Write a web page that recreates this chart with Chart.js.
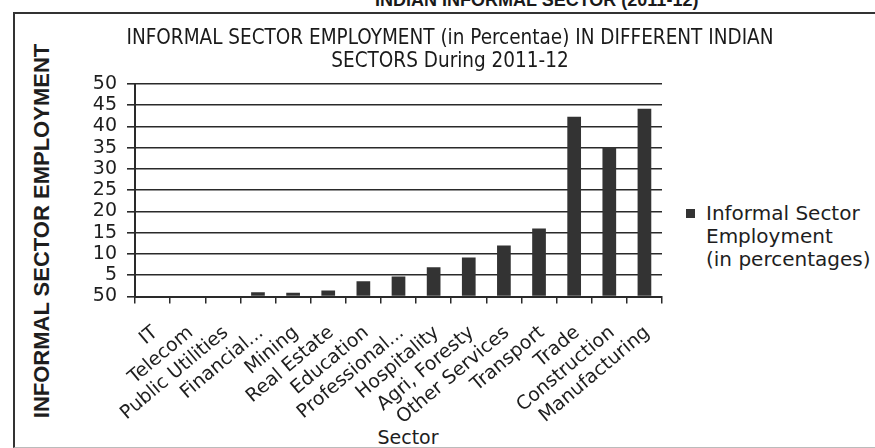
<!DOCTYPE html>
<html>
<head>
<meta charset="utf-8">
<script src="https://cdn.jsdelivr.net/npm/chart.js@4/dist/chart.umd.min.js"></script>
<style>
  html, body { margin: 0; padding: 0; background: #fff; width: 875px; height: 448px; overflow: hidden; position: relative; }
  #frame { position: absolute; left: 13px; top: 12px; width: 900px; height: 433px; border-left: 2px solid #333; border-top: 2px solid #333; border-bottom: 1px solid #bbb; }
  #top { position: absolute; left: 375px; top: -9px; width: 320px; text-align: center; font: bold 18px "Liberation Sans", Arial, sans-serif; line-height: 18px; color: #1a1a1a; white-space: nowrap; }
  #ytitle { position: absolute; left: 42px; top: 231px; transform: translate(-50%, -50%) rotate(-90deg); font: bold 22px "Liberation Sans", Arial, sans-serif; color: #1e1e1e; white-space: nowrap; }
  #xtitle { position: absolute; left: 408px; top: 437px; transform: translate(-50%, -50%); font: 19px "DejaVu Sans", sans-serif; color: #1e1e1e; white-space: nowrap; }
  #legend { position: absolute; left: 686px; top: 202px; font: 20px "DejaVu Sans", sans-serif; line-height: 23px; color: #1e1e1e; }
  #legend .box { position: absolute; left: 0; top: 7px; width: 9px; height: 9px; background: #333; }
  #legend .txt { position: absolute; left: 20px; top: 0; white-space: nowrap; }
  canvas { position: absolute; left: 25px; top: 0; }
</style>
</head>
<body>
<div id="frame"></div>
<div id="top"></div>
<div id="ytitle"></div>
<div id="xtitle"></div>
<div id="legend"><div class="box"></div><div class="txt"></div></div>
<canvas id="c" width="850" height="448"></canvas>
<script>
// ---- data ----
const categories = ['IT', 'Telecom', 'Public Utilities', 'Financial...', 'Mining', 'Real Estate', 'Education', 'Professional...', 'Hospitality', 'Agri, Foresty', 'Other Services', 'Transport', 'Trade', 'Construction', 'Manufacturing'];
const informalPct = [0, 0, 0, 1.0, 0.9, 1.4, 3.6, 4.7, 6.9, 9.2, 12.0, 16.0, 42.3, 35.2, 44.2];
const yTickLabels = ['50', '5', '10', '15', '20', '25', '30', '35', '40', '45', '50'];
const seriesLabel = ['Informal Sector', 'Employment', '(in percentages)'];
const chartTitle = ['INFORMAL SECTOR EMPLOYMENT (in Percentae) IN DIFFERENT INDIAN', 'SECTORS During 2011-12'];
const pageTitle = 'INDIAN INFORMAL SECTOR (2011-12)';
const yAxisTitle = 'INFORMAL SECTOR EMPLOYMENT';
const xAxisTitle = 'Sector';

document.getElementById('top').textContent = pageTitle;
document.getElementById('ytitle').textContent = yAxisTitle;
document.getElementById('xtitle').textContent = xAxisTitle;
document.querySelector('#legend .txt').innerHTML = seriesLabel.map(s => s.replace(/&/g,'&amp;').replace(/</g,'&lt;')).join('<br>');

const ink = '#2a2a2a';
new Chart(document.getElementById('c'), {
  type: 'bar',
  data: {
    labels: categories,
    datasets: [{
      label: seriesLabel.join(' '),
      data: informalPct,
      backgroundColor: '#333333',
      borderWidth: 0,
      categoryPercentage: 1.0,
      barPercentage: 0.39
    }]
  },
  options: {
    responsive: false,
    animation: false,
    devicePixelRatio: 1,
    layout: { padding: 0 },
    plugins: {
      legend: { display: false },
      tooltip: { enabled: false },
      title: {
        display: true,
        text: chartTitle,
        color: '#1a1a1a',
        font: { family: '"DejaVu Sans Condensed", "Liberation Sans Narrow", "Liberation Sans", sans-serif', size: 20.5, weight: 'normal', lineHeight: 1.12 },
        padding: { top: 27, bottom: 11.1 }
      }
    },
    scales: {
      x: {
        grid: { drawOnChartArea: false, drawTicks: true, tickLength: 7, color: ink, lineWidth: 1.5 },
        border: { display: true, color: ink, width: 2 },
        ticks: {
          autoSkip: false, minRotation: 40, maxRotation: 40, labelOffset: 3, padding: 18,
          color: '#1e1e1e', font: { family: '"DejaVu Sans", sans-serif', size: 19 }
        },
        afterFit: s => { s.height = 151.5; }
      },
      y: {
        min: 0, max: 50,
        grid: { drawOnChartArea: true, drawTicks: true, tickLength: 8, color: ink, lineWidth: 1.6 },
        border: { display: true, color: ink, width: 2 },
        ticks: {
          autoSkip: false, stepSize: 5, padding: 10, color: '#1e1e1e',
          font: { family: '"DejaVu Sans", sans-serif', size: 19 },
          callback: (v, i) => yTickLabels[i]
        },
        afterFit: s => { s.width = 110; }
      },
      spacer: {
        type: 'linear', position: 'right', display: true,
        grid: { display: false }, border: { display: false }, ticks: { display: false },
        afterFit: s => { s.width = 213; }
      }
    }
  }
});
</script>
</body>
</html>
